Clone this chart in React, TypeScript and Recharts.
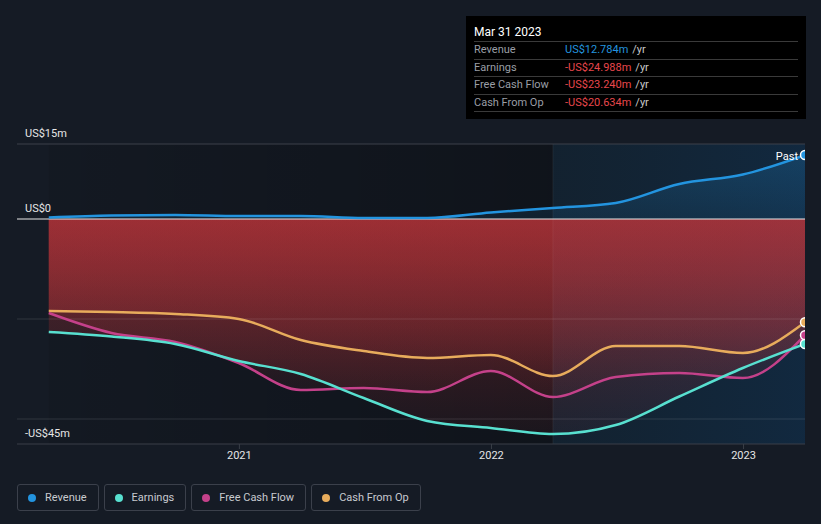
import {
  Area,
  ComposedChart,
  Line,
  ReferenceArea,
  ReferenceLine,
  XAxis,
  YAxis,
} from 'recharts';

// quarterly trailing-twelve-month figures, US$m
const quarterEnds = [
  '2020-03-31', '2020-06-30', '2020-09-30', '2020-12-31',
  '2021-03-31', '2021-06-30', '2021-09-30', '2021-12-31',
  '2022-03-31', '2022-06-30', '2022-09-30', '2022-12-31',
  '2023-03-31',
];
const revenue = [0.3, 0.7, 0.8, 0.6, 0.6, 0.2, 0.2, 1.3, 2.2, 3.2, 7.0, 8.9, 12.784];
const earnings = [-22.6, -23.5, -25.0, -28.4, -31.0, -35.8, -40.4, -41.8, -43.0, -41.2, -35.5, -29.8, -24.988];
const freeCashFlow = [-18.8, -22.8, -24.6, -28.8, -34.2, -33.8, -34.6, -30.4, -35.6, -31.6, -30.8, -31.8, -23.24];
const cashFromOp = [-18.4, -18.6, -19.0, -20.0, -24.2, -26.4, -27.8, -27.2, -31.4, -25.4, -25.4, -26.8, -20.634];

const yTicks = [15, 0, -45];
const yTickLabels: Record<number, string> = { 15: 'US$15m', 0: 'US$0', [-45]: '-US$45m' };
const xTicks = ['2021-01-01', '2022-01-01', '2023-01-01'].map((d) => Date.parse(d));

const COLORS = {
  revenue: '#2394df',
  earnings: '#58e0d0',
  fcf: '#c4418a',
  cfo: '#e8ac5c',
};

const data = quarterEnds.map((d, i) => ({
  t: Date.parse(d),
  revenue: revenue[i],
  earnings: earnings[i],
  fcf: freeCashFlow[i],
  cfo: cashFromOp[i],
}));

const xStart = Date.parse('2020-02-14');
const xEnd = Date.parse('2023-03-31');
const pastStart = Date.parse('2022-03-31');

const font = 'Roboto, "Noto Sans", sans-serif';

const endDot = (color: string, label?: string) => (props: any) => {
  const { cx, cy, index } = props;
  if (index !== data.length - 1) return <g key={`dot-${index}`} />;
  return (
    <g key={`dot-${index}`}>
      {label && (
        <text x={cx - 7} y={cy + 5} textAnchor="end" fill="#ffffff" fontSize={11} fontFamily={font}>
          {label}
        </text>
      )}
      <circle cx={cx} cy={cy} r={4.5} fill={color} stroke="#ffffff" strokeWidth={1.5} />
    </g>
  );
};

const renderYTick = (props: any) => {
  const { y, payload } = props;
  return (
    <text key={`yt-${payload.value}`} x={25} y={y - 7} fill="#e6e6e6" fontSize={11} fontFamily={font}>
      {yTickLabels[payload.value]}
    </text>
  );
};

const tooltipRows = [
  { label: 'Revenue', value: 'US$12.784m', color: '#2394df' },
  { label: 'Earnings', value: '-US$24.988m', color: '#e8474c' },
  { label: 'Free Cash Flow', value: '-US$23.240m', color: '#e8474c' },
  { label: 'Cash From Op', value: '-US$20.634m', color: '#e8474c' },
];

const legendItems = [
  { label: 'Revenue', color: COLORS.revenue },
  { label: 'Earnings', color: COLORS.earnings },
  { label: 'Free Cash Flow', color: COLORS.fcf },
  { label: 'Cash From Op', color: COLORS.cfo },
];

export default function App() {
  return (
    <div
      style={{
        position: 'absolute',
        left: 0,
        top: 0,
        width: 821,
        height: 524,
        background: '#151b25',
        fontFamily: font,
        overflow: 'hidden',
      }}
    >
      <ComposedChart
        width={821}
        height={470}
        data={data}
        margin={{ top: 144, right: 16, bottom: 0, left: 0 }}
      >
        <defs>
          <linearGradient id="leftShade" x1="0" y1="0" x2="1" y2="0">
            <stop offset="0%" stopColor="#000000" stopOpacity={0.08} />
            <stop offset="100%" stopColor="#000000" stopOpacity={0.28} />
          </linearGradient>
          <linearGradient id="rightShade" x1="0" y1="0" x2="1" y2="0">
            <stop offset="0%" stopColor="#0a3c5a" stopOpacity={0.2} />
            <stop offset="100%" stopColor="#0a4678" stopOpacity={0.32} />
          </linearGradient>
          <linearGradient id="revFill" x1="0" y1="0" x2="0" y2="1">
            <stop offset="0%" stopColor={COLORS.revenue} stopOpacity={0.22} />
            <stop offset="100%" stopColor={COLORS.revenue} stopOpacity={0.1} />
          </linearGradient>
          <linearGradient id="redFill" x1="0" y1="0" x2="0" y2="1">
            <stop offset="0%" stopColor="#c8363b" stopOpacity={0.38} />
            <stop offset="100%" stopColor="#c8363b" stopOpacity={0.06} />
          </linearGradient>
        </defs>

        <XAxis
          dataKey="t"
          type="number"
          domain={[xStart, xEnd]}
          ticks={xTicks}
          allowDataOverflow
          height={26}
          tickFormatter={(v) => String(new Date(v).getUTCFullYear())}
          axisLine={{ stroke: '#3a3f48' }}
          tickLine={{ stroke: '#3a3f48' }}
          tickSize={5}
          tick={{ fill: '#e6e6e6', fontSize: 11, fontFamily: font }}
        />
        <YAxis
          type="number"
          domain={[-45, 15]}
          ticks={yTicks}
          interval={0}
          allowDataOverflow
          width={17}
          axisLine={false}
          tickLine={false}
          tick={renderYTick}
        />

        <ReferenceArea x1={Date.parse('2020-03-31')} x2={pastStart} fill="url(#leftShade)" fillOpacity={1} stroke="none" />
        <ReferenceArea x1={pastStart} x2={xEnd} fill="url(#rightShade)" fillOpacity={1} stroke="none" />
        <ReferenceLine x={pastStart} stroke="rgba(255,255,255,0.06)" />

        <ReferenceLine y={15} stroke="#3d414a" />
        <ReferenceLine y={-20} stroke="rgba(255,255,255,0.12)" />
        <ReferenceLine y={-40} stroke="rgba(255,255,255,0.12)" />

        <Area type="monotone" dataKey="revenue" stroke="none" fill="url(#revFill)" fillOpacity={1} baseValue={0} isAnimationActive={false} />
        <Area type="monotone" dataKey="earnings" stroke="none" fill="url(#redFill)" fillOpacity={1} baseValue={0} isAnimationActive={false} />
        <Area type="monotone" dataKey="fcf" stroke="none" fill="url(#redFill)" fillOpacity={1} baseValue={0} isAnimationActive={false} />
        <Area type="monotone" dataKey="cfo" stroke="none" fill="url(#redFill)" fillOpacity={1} baseValue={0} isAnimationActive={false} />

        <ReferenceLine y={0} stroke="#e8e8e8" />

        <Line type="monotone" dataKey="cfo" stroke={COLORS.cfo} strokeWidth={2.5} dot={endDot(COLORS.cfo)} activeDot={false} isAnimationActive={false} />
        <Line type="monotone" dataKey="fcf" stroke={COLORS.fcf} strokeWidth={2.5} dot={endDot(COLORS.fcf)} activeDot={false} isAnimationActive={false} />
        <Line type="monotone" dataKey="earnings" stroke={COLORS.earnings} strokeWidth={2.5} dot={endDot(COLORS.earnings)} activeDot={false} isAnimationActive={false} />
        <Line type="monotone" dataKey="revenue" stroke={COLORS.revenue} strokeWidth={2.5} dot={endDot(COLORS.revenue, 'Past')} activeDot={false} isAnimationActive={false} />
      </ComposedChart>

      {/* static tooltip box */}
      <div
        style={{
          position: 'absolute',
          left: 466,
          top: 16,
          width: 340,
          height: 103,
          background: '#000000',
          boxSizing: 'border-box',
          padding: '0 8px',
        }}
      >
        <div style={{ height: 25, lineHeight: '32px', color: '#ffffff', fontSize: 12 }}>
          Mar 31 2023
        </div>
        {tooltipRows.map((r, i) => (
          <div
            key={r.label}
            style={{
              display: 'flex',
              height: 16.5,
              lineHeight: '16.5px',
              fontSize: 11,
              borderTop: '1px solid #3a3a3a',
              borderBottom: i === tooltipRows.length - 1 ? '1px solid #3a3a3a' : 'none',
            }}
          >
            <span style={{ width: 91, color: '#9a9ea6' }}>{r.label}</span>
            <span style={{ color: r.color }}>{r.value}</span>
            <span style={{ color: '#c8c8c8', marginLeft: 4 }}>/yr</span>
          </div>
        ))}
      </div>

      {/* legend */}
      <div style={{ position: 'absolute', left: 17, top: 484, display: 'flex', gap: 5 }}>
        {legendItems.map((it) => (
          <div
            key={it.label}
            style={{
              height: 27,
              boxSizing: 'border-box',
              border: '1px solid #3b404b',
              borderRadius: 3,
              display: 'flex',
              alignItems: 'center',
              padding: '0 11px 0 10px',
              color: '#c8cad0',
              fontSize: 11,
            }}
          >
            <span
              style={{
                width: 8,
                height: 8,
                borderRadius: '50%',
                background: it.color,
                marginRight: 9,
              }}
            />
            {it.label}
          </div>
        ))}
      </div>
    </div>
  );
}
